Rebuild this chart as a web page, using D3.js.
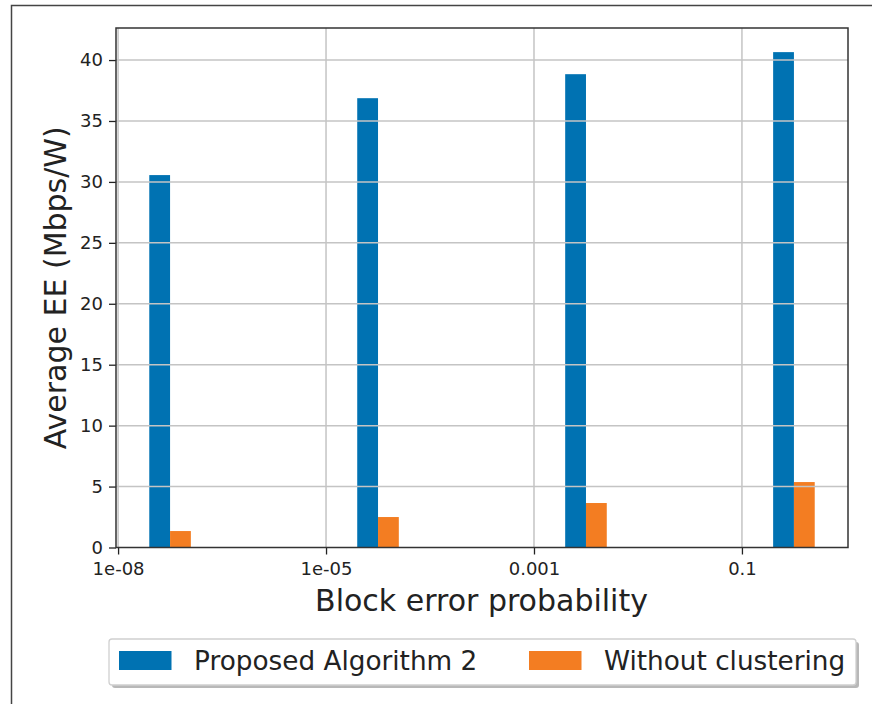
<!DOCTYPE html>
<html>
<head>
<meta charset="utf-8">
<script src="https://cdn.jsdelivr.net/npm/d3@7"></script>
<style>
  html, body { margin: 0; padding: 0; background: #fff; }
  svg { display: block; font-family: "DejaVu Sans", sans-serif; }
</style>
</head>
<body>
<svg id="chart" width="872" height="704"></svg>
<script>
// Block error probability categories and average energy efficiency per scheme
const categories = ["1e-08", "1e-05", "0.001", "0.1"];
const proposedValues = [30.56, 36.87, 38.84, 40.65];
const withoutClusteringValues = [1.35, 2.50, 3.65, 5.37];
const yTicks = [0, 5, 10, 15, 20, 25, 30, 35, 40];
const seriesNames = ["Proposed Algorithm 2", "Without clustering"];
const seriesColors = ["#0072B2", "#F37D22"];

const svg = d3.select("#chart");
const plot = { left: 116, right: 848, top: 28, bottom: 547.5 };
const textColor = "#222";

// Figure frame
svg.append("path")
  .attr("d", "M11.5,704 L11.5,5.5 L872,5.5")
  .attr("fill", "none").attr("stroke", "#444").attr("stroke-width", 1.5);

const x = d3.scaleLinear().domain([-0.01, 3.51]).range([plot.left, plot.right]);
// y range padded 5% above the tallest bar
const y = d3.scaleLinear().domain([0, d3.max(proposedValues) * 1.0487]).range([plot.bottom, plot.top]);

const series = [proposedValues, withoutClusteringValues];
const barW = 0.1;

// Bars
series.forEach((vals, s) => {
  svg.append("g").selectAll("rect").data(vals).join("rect")
    .attr("x", (d, i) => x(i + 0.15 + s * barW))
    .attr("width", x(barW) - x(0))
    .attr("y", d => y(d))
    .attr("height", d => y(0) - y(d))
    .attr("fill", seriesColors[s]);
});

// Grid lines (drawn over the bars)
const grid = svg.append("g");
grid.selectAll("line.h").data(yTicks.filter(t => t > 0)).join("line")
  .attr("x1", plot.left).attr("x2", plot.right)
  .attr("y1", d => y(d)).attr("y2", d => y(d))
  .attr("stroke", "#c4c4c4").attr("stroke-width", 1.5);
grid.selectAll("line.v").data(d3.range(categories.length)).join("line")
  .attr("x1", d => x(d)).attr("x2", d => x(d))
  .attr("y1", plot.top).attr("y2", plot.bottom)
  .attr("stroke", "#c4c4c4").attr("stroke-width", 1.5);

// Axes
const xAxis = d3.axisBottom(x)
  .tickValues(d3.range(categories.length))
  .tickFormat(i => categories[i])
  .tickSize(7).tickPadding(8);
const gx = svg.append("g").attr("transform", `translate(0,${plot.bottom})`).call(xAxis);

const yAxis = d3.axisLeft(y).tickValues(yTicks).tickSize(7).tickPadding(6);
const gy = svg.append("g").attr("transform", `translate(${plot.left},0)`).call(yAxis);

[gx, gy].forEach(g => {
  g.attr("font-size", null).attr("font-family", null);
  g.select(".domain").remove();
  g.selectAll(".tick line").attr("stroke", "#222").attr("stroke-width", 1.3);
  g.selectAll(".tick text").attr("fill", textColor).style("font-size", "18px")
    .style("font-family", "'DejaVu Sans', sans-serif");
});

// Plot frame
svg.append("rect")
  .attr("x", plot.left).attr("y", plot.top)
  .attr("width", plot.right - plot.left).attr("height", plot.bottom - plot.top)
  .attr("fill", "none").attr("stroke", "#333").attr("stroke-width", 1.5);

// Axis titles
svg.append("text")
  .attr("x", (plot.left + plot.right) / 2 - 0.5).attr("y", 611)
  .attr("text-anchor", "middle").attr("fill", textColor)
  .style("font-size", "30px")
  .text("Block error probability");

svg.append("text")
  .attr("transform", `translate(66,${(plot.top + plot.bottom) / 2}) rotate(-90)`)
  .attr("text-anchor", "middle").attr("fill", textColor)
  .style("font-size", "30px")
  .text("Average EE (Mbps/W)");

// Legend
const legend = svg.append("g");
const lg = { x: 109, y: 639, w: 747, h: 46 };
legend.append("rect")
  .attr("x", lg.x + 3).attr("y", lg.y + 3).attr("width", lg.w).attr("height", lg.h)
  .attr("rx", 3).attr("fill", "#b8b8b8");
legend.append("rect")
  .attr("x", lg.x).attr("y", lg.y).attr("width", lg.w).attr("height", lg.h)
  .attr("rx", 3).attr("fill", "#fff").attr("stroke", "#d0d0d0").attr("stroke-width", 1.3);

const legendItems = [
  { name: seriesNames[0], color: seriesColors[0], sx: 119, tx: 194 },
  { name: seriesNames[1], color: seriesColors[1], sx: 529, tx: 604 }
];
legendItems.forEach(it => {
  legend.append("rect")
    .attr("x", it.sx).attr("y", 651).attr("width", 52.5).attr("height", 19)
    .attr("fill", it.color);
  legend.append("text")
    .attr("x", it.tx).attr("y", 670)
    .attr("fill", textColor).style("font-size", "26.3px")
    .text(it.name);
});
</script>
</body>
</html>
